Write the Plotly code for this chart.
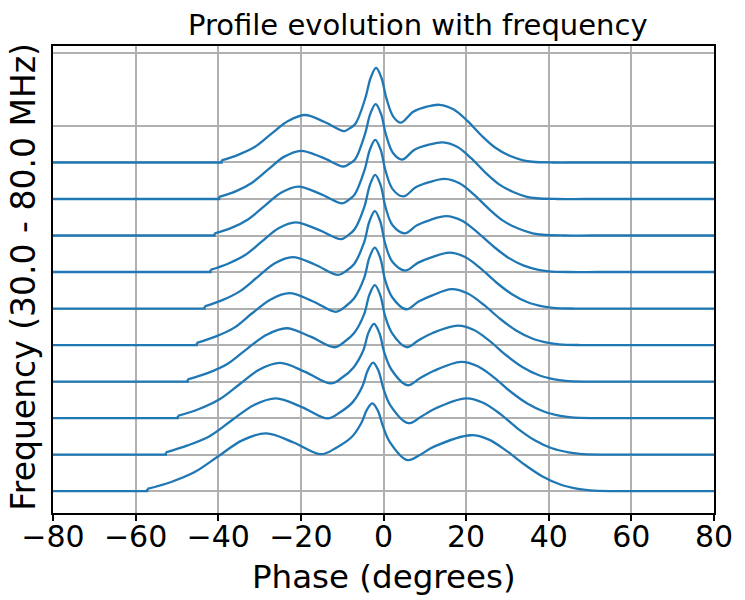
import numpy as np
import plotly.graph_objects as go

# Profile index (channel offset) for each stacked profile, low frequency at bottom
channel_offsets = [0, 1, 2, 3, 4, 5, 6, 7, 8, 9]

# Phase (deg) where each profile leaves / rejoins the flat off-pulse baseline
pulse_start = [-57.2, -52.7, -49.8, -47.4, -45.2, -43.3, -41.9, -40.9, -39.8, -39.2]
pulse_end = [50.0, 47.5, 45.5, 44.0, 42.5, 41.0, 40.0, 38.5, 37.0, 36.0]

# On-pulse phase samples (degrees) for each profile
phase_0 = [-57.2, -51.4, -45.7, -39.9, -34.2, -28.4, -21.75, -15.1, -11.4, -7.7, -5.3, -4.0, -2.7, -1.4, -0.2, 1.5, 5.8, 8.8, 12.1, 21.2, 25.5, 29.8, 34.2, 38.5, 42.8, 47.1, 50.0]
phase_1 = [-52.7, -47.4, -42.0, -36.7, -31.3, -26.0, -19.75, -13.5, -10.5, -7.5, -5.1, -3.8, -2.5, -1.2, 0.0, 1.7, 6.0, 9.0, 12.3, 20.0, 24.1, 28.3, 32.4, 36.5, 40.6, 44.8, 47.5]
phase_2 = [-49.8, -44.8, -39.9, -34.9, -30.0, -25.0, -18.85, -12.7, -10.0, -7.3, -4.9, -3.6, -2.3, -1.0, 0.2, 1.9, 5.8, 8.8, 12.1, 18.8, 22.8, 26.8, 30.8, 34.8, 38.8, 42.8, 45.5]
phase_3 = [-47.4, -42.6, -37.8, -33.1, -28.3, -23.5, -17.65, -11.8, -9.45, -7.1, -4.7, -3.4, -2.1, -0.8, 0.4, 2.1, 5.6, 8.6, 11.9, 18.0, 21.9, 25.8, 29.7, 33.6, 37.5, 41.4, 44.0]
phase_4 = [-45.2, -40.7, -36.2, -31.8, -27.3, -22.8, -17.15, -11.5, -9.3, -7.1, -4.7, -3.4, -2.1, -0.8, 0.4, 2.1, 5.5, 8.5, 11.8, 16.5, 20.4, 24.3, 28.2, 32.1, 36.0, 39.9, 42.5]
phase_5 = [-43.3, -39.0, -34.8, -30.5, -26.3, -22.0, -16.5, -11.0, -9.05, -7.1, -4.7, -3.4, -2.1, -0.8, 0.4, 2.1, 5.3, 8.3, 11.6, 16.0, 19.75, 23.5, 27.25, 31.0, 34.75, 38.5, 41.0]
phase_6 = [-41.9, -37.8, -33.7, -29.5, -25.4, -21.3, -15.8, -10.3, -8.65, -7.0, -4.6, -3.3, -2.0, -0.7, 0.5, 2.2, 5.1, 8.1, 11.4, 15.2, 18.9, 22.6, 26.4, 30.1, 33.8, 37.5, 40.0]
phase_7 = [-40.9, -36.8, -32.8, -28.7, -24.7, -20.6, -15.3, -10.0, -8.5, -7.0, -4.6, -3.3, -2.0, -0.7, 0.5, 2.2, 4.8, 7.8, 11.1, 14.8, 18.4, 21.9, 25.5, 29.0, 32.6, 36.1, 38.5]
phase_8 = [-39.8, -35.8, -31.9, -27.9, -24.0, -20.0, -14.85, -9.7, -8.3, -6.9, -4.5, -3.2, -1.9, -0.6, 0.6, 2.3, 4.5, 7.5, 10.8, 14.4, 17.8, 21.2, 24.6, 28.0, 31.4, 34.7, 37.0]
phase_9 = [-39.2, -35.2, -31.1, -27.1, -23.0, -19.0, -14.25, -9.5, -8.15, -6.8, -4.4, -3.1, -1.8, -0.5, 0.7, 2.4, 4.2, 7.2, 10.5, 13.6, 17.0, 20.3, 23.7, 27.0, 30.4, 33.8, 36.0]

# Normalised intensity at those phases (above each profile's own baseline)
amp_0 = [0.06, 0.25, 0.52, 0.96, 1.39, 1.58, 1.33, 1.01, 1.19, 1.48, 1.88, 2.23, 2.40, 2.21, 1.80, 1.35, 0.85, 0.99, 1.21, 1.53, 1.41, 1.10, 0.72, 0.40, 0.18, 0.06, 0.02]
amp_1 = [0.06, 0.25, 0.51, 0.94, 1.36, 1.54, 1.30, 0.99, 1.16, 1.43, 1.87, 2.31, 2.52, 2.29, 1.80, 1.34, 0.86, 1.03, 1.25, 1.54, 1.42, 1.11, 0.72, 0.40, 0.18, 0.06, 0.02]
amp_2 = [0.06, 0.24, 0.50, 0.92, 1.33, 1.51, 1.26, 0.95, 1.11, 1.38, 1.85, 2.35, 2.58, 2.33, 1.79, 1.33, 0.90, 1.09, 1.29, 1.54, 1.42, 1.11, 0.72, 0.40, 0.18, 0.06, 0.02]
amp_3 = [0.06, 0.23, 0.48, 0.89, 1.28, 1.46, 1.23, 0.94, 1.09, 1.33, 1.84, 2.38, 2.64, 2.37, 1.79, 1.32, 0.94, 1.14, 1.33, 1.53, 1.41, 1.10, 0.72, 0.40, 0.18, 0.06, 0.02]
amp_4 = [0.06, 0.23, 0.47, 0.87, 1.25, 1.42, 1.20, 0.91, 1.05, 1.28, 1.83, 2.40, 2.67, 2.39, 1.78, 1.31, 0.98, 1.19, 1.36, 1.53, 1.41, 1.10, 0.72, 0.40, 0.18, 0.06, 0.02]
amp_5 = [0.06, 0.23, 0.47, 0.86, 1.24, 1.41, 1.20, 0.92, 1.03, 1.22, 1.81, 2.39, 2.67, 2.39, 1.78, 1.29, 1.04, 1.25, 1.40, 1.53, 1.41, 1.10, 0.72, 0.40, 0.18, 0.06, 0.02]
amp_6 = [0.06, 0.22, 0.45, 0.83, 1.20, 1.36, 1.16, 0.90, 1.00, 1.17, 1.80, 2.38, 2.66, 2.38, 1.77, 1.28, 1.06, 1.28, 1.43, 1.53, 1.41, 1.10, 0.72, 0.40, 0.18, 0.06, 0.02]
amp_7 = [0.06, 0.21, 0.44, 0.82, 1.18, 1.34, 1.14, 0.88, 0.97, 1.12, 1.79, 2.35, 2.62, 2.35, 1.77, 1.27, 1.07, 1.32, 1.46, 1.55, 1.43, 1.12, 0.73, 0.40, 0.19, 0.06, 0.02]
amp_8 = [0.06, 0.21, 0.44, 0.81, 1.16, 1.32, 1.14, 0.89, 0.96, 1.08, 1.77, 2.33, 2.60, 2.33, 1.76, 1.26, 1.08, 1.35, 1.48, 1.55, 1.43, 1.12, 0.73, 0.40, 0.19, 0.06, 0.02]
amp_9 = [0.06, 0.21, 0.43, 0.79, 1.14, 1.30, 1.11, 0.86, 0.94, 1.06, 1.76, 2.32, 2.59, 2.32, 1.76, 1.25, 1.09, 1.39, 1.53, 1.58, 1.45, 1.14, 0.74, 0.41, 0.19, 0.06, 0.02]

phases = [phase_0, phase_1, phase_2, phase_3, phase_4, phase_5, phase_6, phase_7, phase_8, phase_9]
amps = [amp_0, amp_1, amp_2, amp_3, amp_4, amp_5, amp_6, amp_7, amp_8, amp_9]

x_range = [-80, 80]
x_ticks = [-80, -60, -40, -20, 0, 20, 40, 60, 80]
y_ticks = [0, 1, 2, 3, 4, 5, 6, 7, 8, 9, 10, 12]

title_text = "Profile evolution with frequency"
x_label = "Phase (degrees)"
y_label = "Frequency (30.0 - 80.0 MHz)"

LINE = "#1f77b4"
GRID = "#b0b0b0"
LW = 2.3

fig = go.Figure()
for off, s, e, ph, am in zip(channel_offsets, pulse_start, pulse_end, phases, amps):
    # flat off-pulse baseline on the left, with the small step up at the pulse start
    fig.add_trace(go.Scatter(
        x=[x_range[0], s, s], y=[off, off, off + am[0]], mode="lines",
        line=dict(color=LINE, width=LW), hoverinfo="skip", showlegend=False))
    # on-pulse part and the flat right-hand baseline as one continuous path
    xs = list(ph) + [e + 5, e + 12, x_range[1]]
    ys = list(np.array(am) + off) + [off, off, off]
    fig.add_trace(go.Scatter(
        x=xs, y=ys, mode="lines",
        line=dict(color=LINE, width=LW, shape="spline", smoothing=1.0),
        hoverinfo="skip", showlegend=False))

fig.update_layout(
    width=745, height=600,
    margin=dict(l=53, r=25, t=46, b=87),
    plot_bgcolor="white", paper_bgcolor="white",
    font=dict(family="DejaVu Sans", color="black"),
    showlegend=False,
)
fig.update_xaxes(
    range=x_range, tickvals=x_ticks, ticks="outside", ticklen=6, tickwidth=1.5,
    tickcolor="black", tickfont=dict(size=30, family="DejaVu Sans"),
    ticklabelstandoff=-10,
    showgrid=True, gridcolor=GRID, gridwidth=1.5, zeroline=False,
    showline=True, linecolor="black", linewidth=1.5, mirror=True,
)
fig.update_yaxes(
    range=[-0.60, 12.19], tickvals=y_ticks, ticks="", showticklabels=False,
    showgrid=True, gridcolor=GRID, gridwidth=1.5, zeroline=False,
    showline=True, linecolor="black", linewidth=1.5, mirror=True,
)

fig.add_annotation(text=title_text, xref="paper", yref="paper", x=0.552, y=1.045,
                   xanchor="center", yanchor="middle", showarrow=False,
                   font=dict(size=29, family="DejaVu Sans", color="black"))
fig.add_annotation(text=x_label, xref="paper", yref="paper", x=0.5, y=-0.137,
                   xanchor="center", yanchor="middle", showarrow=False,
                   font=dict(size=32.5, family="DejaVu Sans", color="black"))
fig.add_annotation(text=y_label, xref="paper", yref="paper", x=-0.0445, y=0.505,
                   xanchor="center", yanchor="middle", showarrow=False, textangle=-90,
                   font=dict(size=33, family="DejaVu Sans", color="black"))

fig.write_html("out.html")
